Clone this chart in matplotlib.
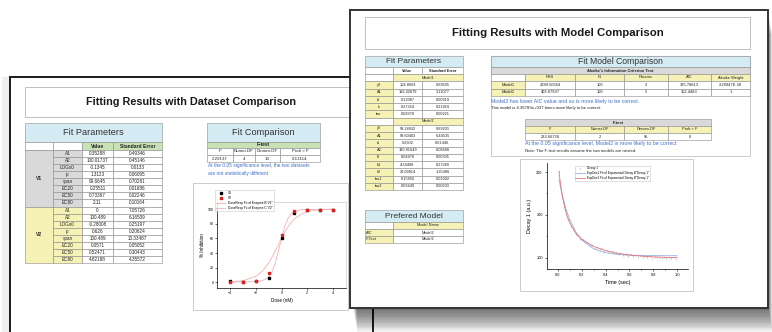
# Two overlapping fit report pages (dataset comparison / model comparison)
import matplotlib.pyplot as plt
from matplotlib.patches import Rectangle

plt.rcParams['font.family'] = ['Liberation Sans', 'DejaVu Sans']

# ---- data: left page (dataset comparison) ----
dr_params = ['A1', 'A2', 'LOGx0', 'p', 'span', 'EC20', 'EC50', 'EC80']
v1_value = ['0.35288', '100.01737', '-0.1345', '1.3123', '99.6645', '0.25511', '0.73367', '2.11']
v1_error = ['0.49346', '0.45146', '0.0133', '0.06095', '0.70281', '0.01686', '0.02246', '0.10164']
v2_value = ['0', '100.489', '-0.28008', '0.626', '100.489', '0.0571', '0.52471', '4.82188']
v2_error = ['7.05726', '6.16509', '0.25197', '0.20624', '10.33487', '0.05052', '0.30443', '4.35572']
ftest_cols = ['F', 'Numer.DF', 'Denom.DF', 'Prob > F']
ftest_left = ['2.29137', '4', '10', '0.13114']

dose = [-4, -3, -2, -1, 0, 1, 2, 3, 4]
v1_inhib = [1.0, 0.5, 1.5, 6.0, 60.5, 95.5, 99.5, 99.5, 99.5]
v2_inhib = [0.0, 0.5, 1.5, 12.0, 65.0, 98.0, 99.5, 99.5, 99.5]
dose_fit = [-4, -3, -2, -1.5, -1, -0.75, -0.5, -0.25, 0, 0.25, 0.5, 0.75, 1, 1.5, 2, 3, 4]
v1_fit = [0.35, 0.37, 0.71, 1.94, 7.14, 13.8, 25.2, 41.6, 60.2, 76.3, 87.2, 93.6, 96.9, 99.3, 99.86, 99.98, 100.0]
v2_fit = [0.47, 1.95, 7.77, 14.8, 26.3, 33.9, 42.3, 51.3, 60.2, 68.6, 75.8, 81.9, 86.8, 93.3, 96.9, 99.6, 100.3]

# ---- data: right page (model comparison) ----
m1_params = ['y0', 'A1', 't1', 'k', 'tau']
m1_value = ['104.8603', '193.32679', '0.12087', '8.27324', '0.08378']
m1_error = ['0.68505', '3.11077', '0.00319', '0.21816', '0.00221']
m2_params = ['y0', 'A1', 't1', 'A2', 't2', 'k1', 'k2', 'tau1', 'tau2']
m2_value = ['99.24932', '99.60403', '0.2302', '130.81649', '0.04976', '4.34408', '20.09814', '0.15956', '0.03449']
m2_error = ['0.69201', '6.44535', '0.01446', '6.06586', '0.00335', '0.27289', '1.35496', '0.01002', '0.00233']
aic_cols = ['RSS', 'N', 'Params', 'AIC', 'Akaike Weight']
aic_model1 = ['2389.50364', '100', '3', '325.78813', '2.28947E-38']
aic_model2 = ['403.67937', '100', '5', '152.4483', '1']
ftest_right = ['233.66726', '2', '95', '0']
pref_rows = ['AIC', 'F-Test']
pref_model = ['Model2', 'Model2']

decay_t = [0.01, 0.03, 0.05, 0.07, 0.09, 0.11, 0.13, 0.15, 0.17, 0.19,
           0.21, 0.23, 0.25, 0.27, 0.29, 0.31, 0.33, 0.35, 0.37, 0.39,
           0.41, 0.43, 0.45, 0.47, 0.49, 0.51, 0.53, 0.55, 0.57, 0.59,
           0.61, 0.63, 0.65, 0.67, 0.69, 0.71, 0.73, 0.75, 0.77, 0.79,
           0.81, 0.83, 0.85, 0.87, 0.89, 0.91, 0.93, 0.95, 0.97, 0.99]
decay_y = [303, 256, 229, 203, 190, 174, 167, 156, 153, 144,
           143, 136, 135, 129, 130, 124, 125, 121, 122, 117,
           118, 113, 116, 111, 114, 108, 111, 107, 110, 105,
           108, 104, 107, 103, 106, 102, 105, 101, 104, 100,
           103, 101, 103, 99, 102, 100, 102, 99, 101, 98]
fit_t = [0.01, 0.02, 0.04, 0.06, 0.08, 0.1, 0.15, 0.2, 0.3, 0.4, 0.5, 0.6, 0.7, 0.8, 0.9, 1.0]
expdec1 = [282.8, 268.7, 243.7, 222.5, 204.6, 189.4, 160.8, 141.8, 121.0, 111.9, 108.0, 106.2, 105.5, 105.1, 105.0, 104.9]
expdec2 = [301.6, 278.1, 241.5, 215.2, 195.8, 181.3, 157.6, 143.4, 126.6, 116.8, 110.6, 106.6, 104.0, 102.3, 101.2, 100.5]

W, H = 772, 332
BLUE_HDR = '#d4ebf3'
GRAY = '#d9d9d9'
YELLOW = '#f6f2b6'
GREEN = '#c8e2b6'
NOTE_BLUE = '#3f6fc4'

fig = plt.figure(figsize=(W / 100, H / 100), dpi=100)


def overlay(z):
    a = fig.add_axes([0, 0, 1, 1], zorder=z)
    a.set_xlim(0, W)
    a.set_ylim(H, 0)
    a.axis('off')
    a.patch.set_alpha(0)
    return a


def fig_rect(x0, y0, x1, y1):
    return [x0 / W, 1 - y1 / H, (x1 - x0) / W, (y1 - y0) / H]


def box(a, x0, y0, x1, y1, fc='white', ec='#8a8a8a', lw=0.4):
    a.add_patch(Rectangle((x0, y0), x1 - x0, y1 - y0, facecolor=fc, edgecolor=ec, linewidth=lw))


def cell(a, x0, x1, y0, y1, txt='', fc='white', fs=3, bold=False, color='#222222', ha='center'):
    box(a, x0, y0, x1, y1, fc=fc)
    if txt:
        tx = (x0 + x1) / 2 if ha == 'center' else x0 + 1
        a.text(tx, (y0 + y1) / 2, txt, ha=ha, va='center', fontsize=fs,
               fontweight='bold' if bold else 'normal', color=color)


# ================= left page =================
a0 = overlay(0)
box(a0, 2, 77, 373, 345, fc='#f0f0f0', ec='none')
box(a0, 10, 77, 373, 345, fc='white', ec='#1a1a1a', lw=1.4)
box(a0, 25, 87, 357, 117, ec='#b5b5b5', lw=0.6)
a0.text(191, 102, 'Fitting Results with Dataset Comparison', ha='center', va='center',
        fontsize=7.8, fontweight='bold', color='#1a1a1a')

cl = [25, 53, 82, 113, 162]
cell(a0, cl[0], cl[4], 123, 142, 'Fit Parameters', fc=BLUE_HDR, fs=6.6, color='#333333')
cell(a0, cl[0], cl[1], 142, 150)
cell(a0, cl[1], cl[2], 142, 150)
cell(a0, cl[2], cl[3], 142, 150, 'Value', fc=GREEN, fs=3.6, bold=True)
cell(a0, cl[3], cl[4], 142, 150, 'Standard Error', fc=GREEN, fs=3.6, bold=True)
rh = (263 - 150) / 16
for g, (name, vals, errs, fc) in enumerate([('V1', v1_value, v1_error, GRAY),
                                             ('V2', v2_value, v2_error, YELLOW)]):
    top = 150 + g * 8 * rh
    cell(a0, cl[0], cl[1], top, top + 8 * rh, name, fc=fc, fs=3.6, bold=True)
    for i, p in enumerate(dr_params):
        y0 = top + i * rh
        cell(a0, cl[1], cl[2], y0, y0 + rh, p, fc=fc, fs=3.3)
        cell(a0, cl[2], cl[3], y0, y0 + rh, vals[i], fs=3.3)
        cell(a0, cl[3], cl[4], y0, y0 + rh, errs[i], fs=3.3)

cc = [207, 233, 255, 280, 320]
cell(a0, cc[0], cc[4], 123, 142, 'Fit Comparison', fc=BLUE_HDR, fs=6.6, color='#333333')
cell(a0, cc[0], cc[4], 142, 148, 'F-test', fc=GREEN, fs=3.4, bold=True)
for j in range(4):
    cell(a0, cc[j], cc[j + 1], 148, 155, ftest_cols[j], fs=3.2)
    cell(a0, cc[j], cc[j + 1], 155, 162, ftest_left[j], fs=3.2)
a0.text(208, 166, 'At the 0.05 significance level, the two datasets', fontsize=3.5,
        color=NOTE_BLUE, va='center')
a0.text(208, 173, 'are not statistically different', fontsize=3.5, color=NOTE_BLUE, va='center')
box(a0, 193, 183, 348, 310, ec='#c4c4c4', lw=0.6)

# dose response plot
ax1 = fig.add_axes(fig_rect(217, 202, 346, 288), zorder=1)
ax1.plot(dose_fit, v1_fit, color='#f5b0b0', lw=0.6, label='DoseResp Fit of Enzyme B"V1"')
ax1.plot(dose_fit, v2_fit, color='#f5b0b0', lw=0.6, label='DoseResp Fit of Enzyme C"V2"')
ax1.plot(dose, v1_inhib, 's', color='black', ms=1.8, label='V1')
ax1.plot(dose, v2_inhib, 's', color='#e02020', ms=1.8, label='V2')
ax1.set_xlim(-5, 5)
ax1.set_ylim(-8, 110)
ax1.set_xticks([-4, -2, 0, 2, 4])
ax1.set_yticks([0, 20, 40, 60, 80, 100])
ax1.tick_params(labelsize=2.5, length=1.5, width=0.4, pad=1)
for s in ['top', 'right']:
    ax1.spines[s].set_color('#cccccc')
for s in ax1.spines.values():
    s.set_linewidth(0.5)
ax1.set_xlabel('Dose (nM)', fontsize=3.3, labelpad=2)
ax1.set_ylabel('% Inhibition', fontsize=3.3, labelpad=2)
h, l = ax1.get_legend_handles_labels()
leg = ax1.legend([h[2], h[3], h[0], h[1]], [l[2], l[3], l[0], l[1]], loc='upper left',
                 bbox_to_anchor=(213 / W, 1 - 188 / H), bbox_transform=fig.transFigure,
                 fontsize=2.3, frameon=True, fancybox=False, borderpad=0.4,
                 handlelength=3, labelspacing=0.3)
leg.get_frame().set_edgecolor('#bbbbbb')
leg.get_frame().set_linewidth(0.4)

# ================= right page =================
a2 = overlay(2)
for k in range(1, 15):
    box(a2, 353 + k * 0.3, 10 + k * 1.7, 768 + k * 0.3, 308 + k * 1.7, fc=(0, 0, 0, 0.05), ec='none', lw=0)
box(a2, 350, 10, 768, 308, fc='white', ec='#333333', lw=1.4)
box(a2, 365, 17, 750, 49, ec='#b5b5b5', lw=0.6)
a2.text(558, 33.5, 'Fitting Results with Model Comparison', ha='center', va='center',
        fontsize=8.2, fontweight='bold', color='#1a1a1a')

# fit parameters
cp = [365, 393, 422, 463]
cell(a2, cp[0], cp[3], 56, 67, 'Fit Parameters', fc=BLUE_HDR, fs=6, color='#333333')
rh2 = (190 - 67) / 17
y = 67
cell(a2, cp[0], cp[1], y, y + rh2)
cell(a2, cp[1], cp[2], y, y + rh2, 'Value', fs=2.8, bold=True)
cell(a2, cp[2], cp[3], y, y + rh2, 'Standard Error', fs=2.8, bold=True)
y += rh2
for mname, pars, vals, errs in [('Model1', m1_params, m1_value, m1_error),
                                ('Model2', m2_params, m2_value, m2_error)]:
    cell(a2, cp[0], cp[1], y, y + rh2)
    cell(a2, cp[1], cp[3], y, y + rh2, mname, fc=YELLOW, fs=2.8)
    y += rh2
    for i, p in enumerate(pars):
        cell(a2, cp[0], cp[1], y, y + rh2, p, fc=YELLOW, fs=2.8)
        cell(a2, cp[1], cp[2], y, y + rh2, vals[i], fs=2.8)
        cell(a2, cp[2], cp[3], y, y + rh2, errs[i], fs=2.8)
        y += rh2

# prefered model
cell(a2, cp[0], cp[3], 210, 222, 'Prefered Model', fc=BLUE_HDR, fs=6, color='#333333')
cell(a2, cp[0], cp[1], 222, 229)
cell(a2, cp[1], cp[3], 222, 229, 'Model Name', fc=YELLOW, fs=2.8)
for i, r in enumerate(pref_rows):
    y0 = 229 + i * 7
    cell(a2, cp[0], cp[1], y0, y0 + 7, r, fc=YELLOW, fs=2.8, ha='left')
    cell(a2, cp[1], cp[3], y0, y0 + 7, pref_model[i], fs=2.8)

# fit model comparison
box(a2, 491, 56, 750, 156, ec='#b5b5b5', lw=0.5)
cell(a2, 491, 750, 56, 67, 'Fit Model Comparison', fc=BLUE_HDR, fs=6.2, color='#333333')
cell(a2, 491, 750, 67, 74, "Akaike's Information Criterion Test", fc=GRAY, fs=2.9, bold=True)
ca = [491, 525, 575, 624, 668, 711, 750]
cell(a2, ca[0], ca[1], 74, 81)
for j in range(5):
    cell(a2, ca[j + 1], ca[j + 2], 74, 81, aic_cols[j], fc=YELLOW, fs=2.9)
for r, (mname, vals) in enumerate([('Model1', aic_model1), ('Model2', aic_model2)]):
    y0 = 81 + r * 7.5
    cell(a2, ca[0], ca[1], y0, y0 + 7.5, mname, fc=YELLOW, fs=2.9)
    for j in range(5):
        cell(a2, ca[j + 1], ca[j + 2], y0, y0 + 7.5, vals[j], fs=2.9)
a2.text(491, 101, 'Model2 has lower AIC value and so is more likely to be correct.',
        fontsize=3.8, color=NOTE_BLUE, va='center')
a2.text(491, 108, 'This model is 4.36783e+037 times more likely to be correct.',
        fontsize=3.1, color='#222222', va='center')
cf = [525, 575, 624, 668, 711]
cell(a2, cf[0], cf[4], 119, 126, 'F-test', fc=GRAY, fs=2.9, bold=True)
for j in range(4):
    cell(a2, cf[j], cf[j + 1], 126, 133, ftest_cols[j], fc=YELLOW, fs=2.9)
    cell(a2, cf[j], cf[j + 1], 133, 140, ftest_right[j], fs=2.9)
a2.text(525, 144, 'At the 0.05 significance level, Model2 is more likely to be correct.',
        fontsize=3.8, color=NOTE_BLUE, va='center')
a2.text(525, 151, 'Note: The F-test results assume the two models are nested.',
        fontsize=3.1, color='#222222', va='center')
box(a2, 520, 159, 693, 291, ec='#c4c4c4', lw=0.6)

# decay plot
ax3 = fig.add_axes(fig_rect(547, 163, 688, 269), zorder=3)
ax3.plot(decay_t, decay_y, '^', color='#b8b8b8', ms=1.2, mew=0, label='Decay 1')
ax3.plot(fit_t, expdec1, color='#8fb0e6', lw=0.6,
         label='ExpDec1 Fit of Exponential Decay B"Decay 1"')
ax3.plot(fit_t, expdec2, color='#e87070', lw=0.6,
         label='ExpDec2 Fit of Exponential Decay B"Decay 1"')
ax3.set_xlim(-0.09, 1.09)
ax3.set_ylim(74, 321)
ax3.set_xticks([0.0, 0.2, 0.4, 0.6, 0.8, 1.0])
ax3.set_xticklabels(['0.0', '0.2', '0.4', '0.6', '0.8', '1.0'])
ax3.set_xticks([0.1, 0.3, 0.5, 0.7, 0.9], minor=True)
ax3.set_yticks([100, 200, 300])
ax3.set_yticks([150, 250], minor=True)
ax3.tick_params(labelsize=2.8, length=1.6, width=0.4, pad=1.5)
ax3.tick_params(which='minor', length=1.0, width=0.4)
for s in ['top', 'right']:
    ax3.spines[s].set_visible(False)
for s in ['left', 'bottom']:
    ax3.spines[s].set_linewidth(0.5)
ax3.set_xlabel('Time (sec)', fontsize=3.9, labelpad=2)
ax3.set_ylabel('Decay 1 (a.u.)', fontsize=3.9, labelpad=3)
leg3 = ax3.legend(loc='upper left', bbox_to_anchor=(573 / W, 1 - 164 / H),
                  bbox_transform=fig.transFigure, fontsize=2.2, frameon=True,
                  fancybox=False, borderpad=0.3, handlelength=3, labelspacing=0.2)
leg3.get_frame().set_edgecolor('#bbbbbb')
leg3.get_frame().set_linewidth(0.4)

fig.savefig('out.png', dpi=100)
